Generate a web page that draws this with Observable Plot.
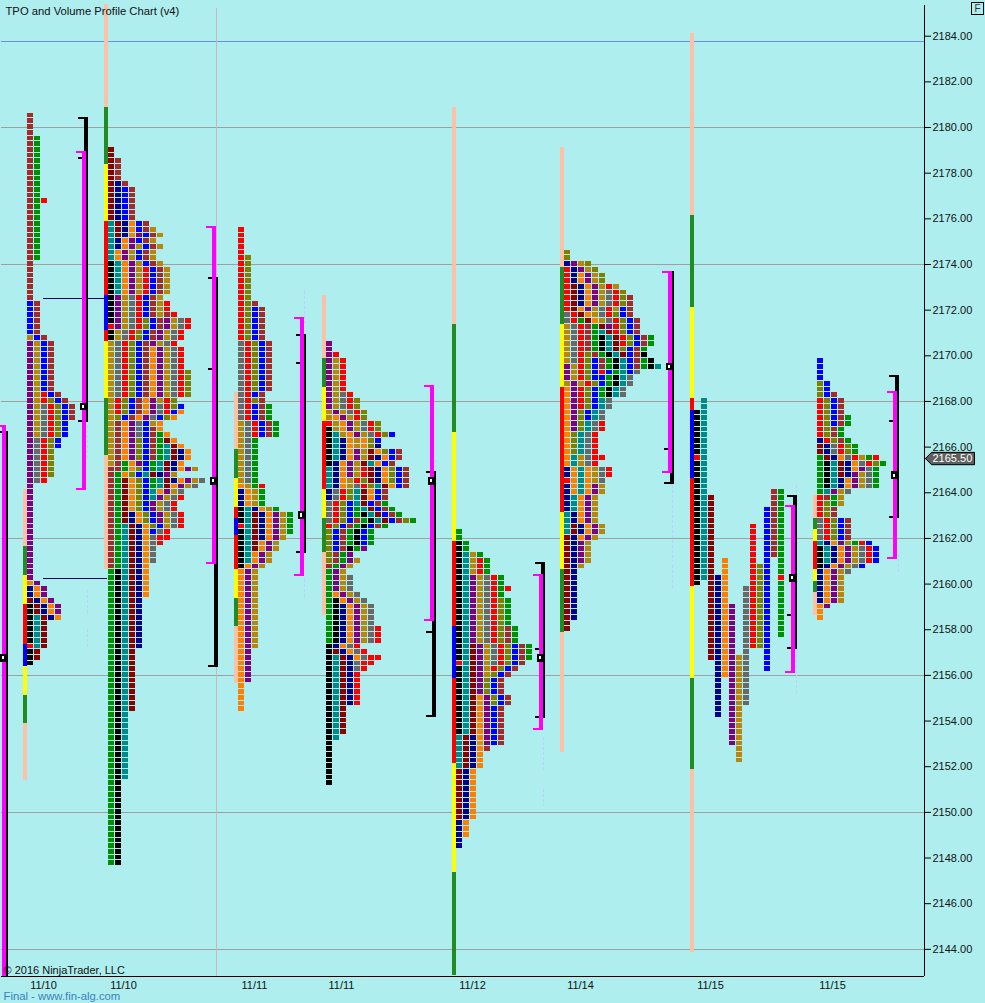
<!DOCTYPE html>
<html><head><meta charset="utf-8">
<script src="https://cdn.jsdelivr.net/npm/d3@7"></script>
<script src="https://cdn.jsdelivr.net/npm/@observablehq/plot@0.6"></script>
<style>
html,body{margin:0;padding:0;background:#afeeee;overflow:hidden}
#c{position:relative;width:985px;height:1003px}
svg{display:block}
</style></head><body><div id="c"></div>
<script>
const palette={R:"#ff0000",B:"#0000ff",N:"#00008b",M:"#8b0000",W:"#a52a2a",G:"#009000",T:"#008b8b",O:"#ff8000",P:"#800080",K:"#000000",D:"#b8860b",Y:"#696969",V:"#808000"};
const stripPalette={p:"#ffc1a6",g:"#228b22",y:"#ffff00",r:"#ff0000",b:"#0000ff"};

const profile1=["W*4","WG*11","WGR","WG*10","W*7","BW*6","DBW","PDBW*9","PDRBW","PDRVBW","PDYRVBW*3","PDYRVB*3","PYRVB*2","PYRV*5","PYR","P*17","OP","NOP*2","MNOP","KMNOP*2","KTMNO","KTM*4","RTM","KM*2","K"];
const profile2=["M*2","MW*4","MNW","MNBW*6","TMNOBW","TMNOBWD","TMNOPBWD","TNOPBWD","TNOPDBWD","TOPDBWD*2","KTOPDBWD","KTOPDRBWD*5","KPDYRBWD","KPDYRBWDR*2","KPDYRBWDWR","KPDYRVBWPDYR","RPDYRVBWPDYR","KDYRVBWPDYR*2","DYRVBWPDYR","DYRVBWOPDYR*4","DYRVBWOPDYRV*5","DRVBWOPDRV","DRVBWOPYRVB","DRVBWOPYRBO","DVBWOPYBVO","DWOPYBDO","DWOPYBWO","DWOPYBWGO","DWOPVBWGMO","DWOPVBWGTMO","DWOPVBWGTMNO*2","DWGOPBGTMNO","WWGOVBGTMNOPD","WGOVBTMNPD","WGMOVBGTMNOPDY","WGMOVBGTMOPDY","WGMOVBTOPDY","WGMOVBTPDYR","WGMOVBPDYR*2","WGMNOVBPDYR*2","WGTMNOVBDYR","WGTMNOBYR","WGTMNOYRR","WGTMNOYR","WGTMNOY*3","WGTMNO","GKTMNO*5","GKTMN*9","GKTM*11","GKT*12","GK*15"];
const profile3=["R*5","RV*8","RVW","RVBW*6","YRVBW*9","YRBW","YRVW","YRBWG*3","DYRBWG*3","DYG*8","ODGR","NODG*3","KTNODG","KTMNOPDG*2","RTMNOPDG","KTMNOPDG","KTMNOPD","KTMOPD*2","KTOPD*2","KOPD","OPD*14","OP*6","O*5"];
const profile4=["P*2","PR","PDR*6","PDYR","PDYRV*2","DPDYRV","DOPDRV","RDOPDYRV","KDOPDYRV","KTDOPDYRVB","KTNODOVB","KTNODOVN","KTNOPDMOVBW","KTNOPDMNOBW","KNOPDMTOBW","TNOPDRMNOVBW*2","TNODRVMNOVBW","TNODYRVTMOBW","NYRVTMOBW*2","YRVBTMBWG","YRVBGTMBWG","YRVBGKTMBWG","YRVBWGKTMBWVG","RVBWGKBWG","VBWGKBG*3","VBWKGP","VWGP","VWGPD","WGPD","GPD","GPDY*3","GOPDY","GKOPDY","GKNOPDY*4","GKNOPDYR*3","KNOYR","KMNOYR","KTMNOYRR","KTMNYRR","KTMNYR","KTMNR*6","KTM*5","KT","K*8"];
const profile5=["G*2","KG*2","KTDG","KTDRG*3","KTPDYRG*2","KTPDYRGR","KTPDYRG","KTPDYRVG*5","KTPDYRVWG*3","KTMPDYRVBWG*3","RTMPDYRVBW","KTMPDRVBW","KTMPDVBW","KTMPVBW*3","KTMOPVBW*2","KTMOPBW*5","TMNOPBW*2","TMNOW","TMNO*3","MNO*9","NO*3","N*2"];
const profile6=["V*2","NPDV","RNPDV","RNOPDV*2","RMNOPDRD","RMNOPDYRV","RMNOPDYRVW*2","RMOPDYRDBW","YRMODYRVBW","YRGMODYRVBW","DYRWGMPRVBW","DYRWGTMRVBW","DYRWGKTMRVBWG*2","DYRWGKTMVBWG","DYRVWGKTMBWK","DYRVBWGKTBWGK","PDRVBWGKTBWGKT","PDRVBRBGTBY","PDRVBBGKTY","DPDRVBGKTY","OPRVBGKTY*2","OPRVBTY*2","OPVBTY*2","OPVTYR*2","OVTYR*4","OTDYRR","OTDYR","NOTODYR*2","ROTODY","NOTOPD*2","NTOPD*3","TNOPD*2","TMNOPD*2","MNOPD","MNPD*4","MND","MN*9","M*2"];
const profile8=["B*4","VB*2","VBW","RVBW*3","RVBWG*2","RVWG*2","NRVWG","MNYRVG*2","GMNOYRDGR","GKTMNOYRVG","GKTMNOPYG","GKTMNPDYG","GKTNOPDYG*2","GTPDY","RWGD","RVGD","RVW*2","YRVBW*4","TNOPDGRB","KTNOPDYRB*3","KNOPDYB","NOPDY","NOPD*5","OP","O*2"];
const profile7Columns=[["K",2,31],["T",0,32],["M",17,29],["N",31,25],["O",28,21],["P",36,25],["D",45,19],["Y",33,21],["R",22,22],["V",29,15],["B",19,29],["W",16,12],["G",16,26]];
const profile7Overrides=[[0,10,"R"],[12,31,"R"]];

const profileLeft=[27,108,238,326,456,564,694,817];
const profileTop=[2180.5,2179,2175.5,2170.5,2162.25,2174.5,2168,2169.75];

const strips=[
 [23,2164,"p10 g5 y5 r7 b4 y5 g5 p10"],
 [104,2185.25,"p18 g10 y10 r13 b6 r2 y10 g10 p20"],
 [234,2168.25,"p10 g5 y5 r2 b3 r6 y5 g5 p10"],
 [322,2172.5,"p11 g5 y6 r12 y5 g6 p11"],
 [452,2180.75,"p38 g19 y19 r15 b9 r15 y19 g18"],
 [560,2179,"p21 g10 y11 r22 y10 g11 p21"],
 [690,2184,"p32 g16 y16 r2 b12 r19 y16 g16 p32"],
 [813,2163.75,"p4 g2 y2 r5 y2 g2 p4"]
];

const bracketX=[2,82,212,300,430,539,668,791,893];
const magentaTop=[2166.95,2178.95,2175.66,2171.68,2168.7,2160.42,2173.7,2163.44,2168.44];
const magentaBottom=[2142.81,2164.1,2160.86,2160.34,2158.36,2153.59,2164.85,2156.08,2161.08];
const blackTop=[2166.69,2180.44,2173.43,2170.93,2164.93,2160.95,2173.7,2163.88,2169.14];
const blackBottom=[2142.81,2167.08,2156.35,2161.34,2154.16,2154.12,2164.36,2157.14,2162.87];
const blackTick=[null,2178.64,2169.4,2169.66,2157.88,2157.14,2165.9,2158.63,2167.12];
const pocPrice=[2156.75,2167.75,2164.5,2163,2164.5,2156.75,2169.5,2160.25,2164.75];

const nakedPoc=[[43,105,2172.5],[43,107,2160.25]];
const dashes=[[86.5,2165.5,2167],[86.5,2159.7,2158.7],[86.5,2158,2157.2],[304,2172.8,2171.4],[304,2160.2,2159.4],[435,2165.4,2164.9],[543,2153.3,2151.8],[543,2151,2150.3],[672,2164.3,2161],[672,2160.8,2159.8],[795.6,2164.3,2155.2],[898,2161.3,2160.4]];

const gridPrices=[2183.75,2180,2174,2168,2162,2156,2150,2144];
const sessionLine=216;
const dateTickX=[43,123,254,341,472,580,710,832];
const dateLabels=["11/10","11/10","11/11","11/11","11/12","11/14","11/15","11/15"];
const lastPrice=2165.5;
const yTicks=d3.range(2144,2185,2);
const yMin=2142.81,yMax=2185.564,yTop=2185.345;

function expand(rows){const o=[];for(const r of rows){const [s,n]=r.split("*");for(let i=0;i<(+n||1);i++)o.push(s);}return o;}
const allRows=[profile1,profile2,profile3,profile4,profile5,profile6,null,profile8];
const cells=[];
allRows.forEach((rows,pi)=>{
  const left=profileLeft[pi],top=profileTop[pi];
  if(rows){expand(rows).forEach((s,k)=>{[...s].forEach((c,j)=>{cells.push({x:left+j*7,p:top-k*.25,c:palette[c]});});});}
  else{
    profile7Columns.forEach(([c,start,count],j)=>{
      for(let k=start;k<start+count;k++){
        const o=profile7Overrides.find(v=>v[0]===j&&v[1]===k);
        cells.push({x:left+j*7,p:top-k*.25,c:palette[o?o[2]:c]});
      }
    });
  }
});
const stripCells=[];
strips.forEach(([x,top,spec])=>{
  let p=top;
  spec.split(" ").forEach(t=>{const n=+t.slice(1);stripCells.push({x,y1:p+.125,y2:p+.125-n*.25,c:stripPalette[t[0]]});p-=n*.25;});
});
const ph=2/22.83;
const mBars=[],kBars=[];
bracketX.forEach((x,i)=>{
  mBars.push({x1:x,x2:x+4,y1:magentaTop[i],y2:magentaBottom[i]});
  mBars.push({x1:x-6,x2:x+4,y1:magentaTop[i],y2:magentaTop[i]-ph});
  if(i>0)mBars.push({x1:x-6,x2:x+4,y1:magentaBottom[i]+ph,y2:magentaBottom[i]});
  kBars.push({x1:x+2,x2:x+6,y1:blackTop[i],y2:blackBottom[i]});
  kBars.push({x1:x-4,x2:x+6,y1:blackTop[i],y2:blackTop[i]-ph});
  if(i>0)kBars.push({x1:x-4,x2:x+6,y1:blackBottom[i]+ph,y2:blackBottom[i]});
  if(blackTick[i]!=null)kBars.push({x1:x-4,x2:x+2,y1:blackTick[i]+ph/2,y2:blackTick[i]-ph/2});
});
const pocOuter=bracketX.map((x,i)=>({x1:x-2,x2:x+6,p:pocPrice[i]}));
const pocInner=bracketX.map((x,i)=>({x1:x,x2:x+2,p:pocPrice[i]}));

const flagPts=[[925,lastPrice],[931,lastPrice+.27],[974,lastPrice+.27],[974,lastPrice-.27],[931,lastPrice-.27],[925,lastPrice]];

const chart=Plot.plot({
  width:985,height:1003,marginLeft:0,marginRight:61,marginTop:0,marginBottom:27,
  style:{background:"#afeeee",fontFamily:"'Liberation Sans',Arial,sans-serif",fontSize:"11px",color:"#111",overflow:"visible"},
  x:{domain:[0,924],range:[0,924],axis:null},
  y:{domain:[yMin,yMax],range:[976,0],axis:null},
  color:{type:"identity"},
  marks:[
    Plot.ruleY(gridPrices.slice(1),{x1:1,x2:924,stroke:"#a0a0a0",strokeWidth:1,shapeRendering:"crispEdges"}),
    Plot.ruleY(gridPrices.slice(0,1),{x1:1,x2:924,stroke:"#6a90d8",strokeWidth:1,shapeRendering:"crispEdges"}),
    Plot.ruleX([sessionLine],{y1:2185.2,y2:yMin,stroke:"#c9b6c0",strokeWidth:1,shapeRendering:"crispEdges"}),
    Plot.ruleY(nakedPoc,{x1:d=>d[0],x2:d=>d[1],y:d=>d[2],stroke:"#00006e",strokeWidth:1,shapeRendering:"crispEdges"}),
    Plot.ruleX(dashes,{x:d=>d[0],y1:d=>d[1],y2:d=>d[2],stroke:"#bcd0f7",strokeWidth:1,strokeDasharray:"3,2",shapeRendering:"crispEdges"}),
    Plot.rect(stripCells,{x1:"x",x2:d=>d.x+4,y1:"y1",y2:"y2",fill:"c",shapeRendering:"crispEdges"}),
    Plot.rect(cells,{x1:"x",x2:d=>d.x+6,y1:d=>d.p-.125,y2:d=>d.p+.125,insetBottom:1,fill:"c",shapeRendering:"crispEdges"}),
    Plot.rect(kBars,{x1:"x1",x2:"x2",y1:"y1",y2:"y2",fill:"#000",shapeRendering:"crispEdges"}),
    Plot.rect(mBars,{x1:"x1",x2:"x2",y1:"y1",y2:"y2",fill:"#ff00ff",shapeRendering:"crispEdges"}),
    Plot.rect(pocOuter,{x1:"x1",x2:"x2",y1:d=>d.p-.165,y2:d=>d.p+.165,fill:"#000",shapeRendering:"crispEdges"}),
    Plot.rect(pocInner,{x1:"x1",x2:"x2",y1:d=>d.p-.07,y2:d=>d.p+.07,fill:"#fff",shapeRendering:"crispEdges"}),
    Plot.ruleY([yMin],{x1:1,x2:924,stroke:"#000",strokeWidth:1,shapeRendering:"crispEdges"}),
    Plot.ruleX([924],{y1:yTop,y2:yMin,stroke:"#000",strokeWidth:1,shapeRendering:"crispEdges"}),
    Plot.axisY(yTicks,{anchor:"right",tickSize:6,tickPadding:2,tickFormat:d=>d.toFixed(2),fontSize:11,fill:"#111",stroke:"#000",label:null}),
    Plot.axisX(dateTickX,{anchor:"bottom",tickSize:0,tickPadding:5,tickFormat:(d,i)=>dateLabels[i],fontSize:11,fill:"#111",label:null}),
    Plot.line(flagPts,{x:d=>d[0],y:d=>d[1],fill:"#5f5f5f",stroke:"#000",strokeWidth:1,curve:"linear"}),
    Plot.text([lastPrice],{x:()=>932,y:d=>d,text:d=>d.toFixed(2),fill:"#fff",textAnchor:"start",fontSize:11}),
    Plot.text(["TPO and Volume Profile Chart (v4)"],{frameAnchor:"top-left",dx:5,dy:6,lineAnchor:"top",fill:"#111",fontSize:11.25}),
    Plot.text(["© 2016 NinjaTrader, LLC"],{frameAnchor:"bottom-left",dx:3,dy:-3,lineAnchor:"bottom",fill:"#111",fontSize:11}),
    Plot.text(["Final - www.fin-alg.com"],{frameAnchor:"bottom-left",dx:3,dy:23,lineAnchor:"bottom",fill:"#3a80c0",fontSize:11.3})
  ]
});
document.getElementById("c").appendChild(chart);
const f=document.createElement("div");
f.textContent="F";
f.style.cssText="position:absolute;left:971px;top:2px;width:11px;height:11px;border:1px solid #000;font:10px 'Liberation Sans',Arial,sans-serif;line-height:11px;text-align:center;color:#333";
document.getElementById("c").appendChild(f);
</script></body></html>
